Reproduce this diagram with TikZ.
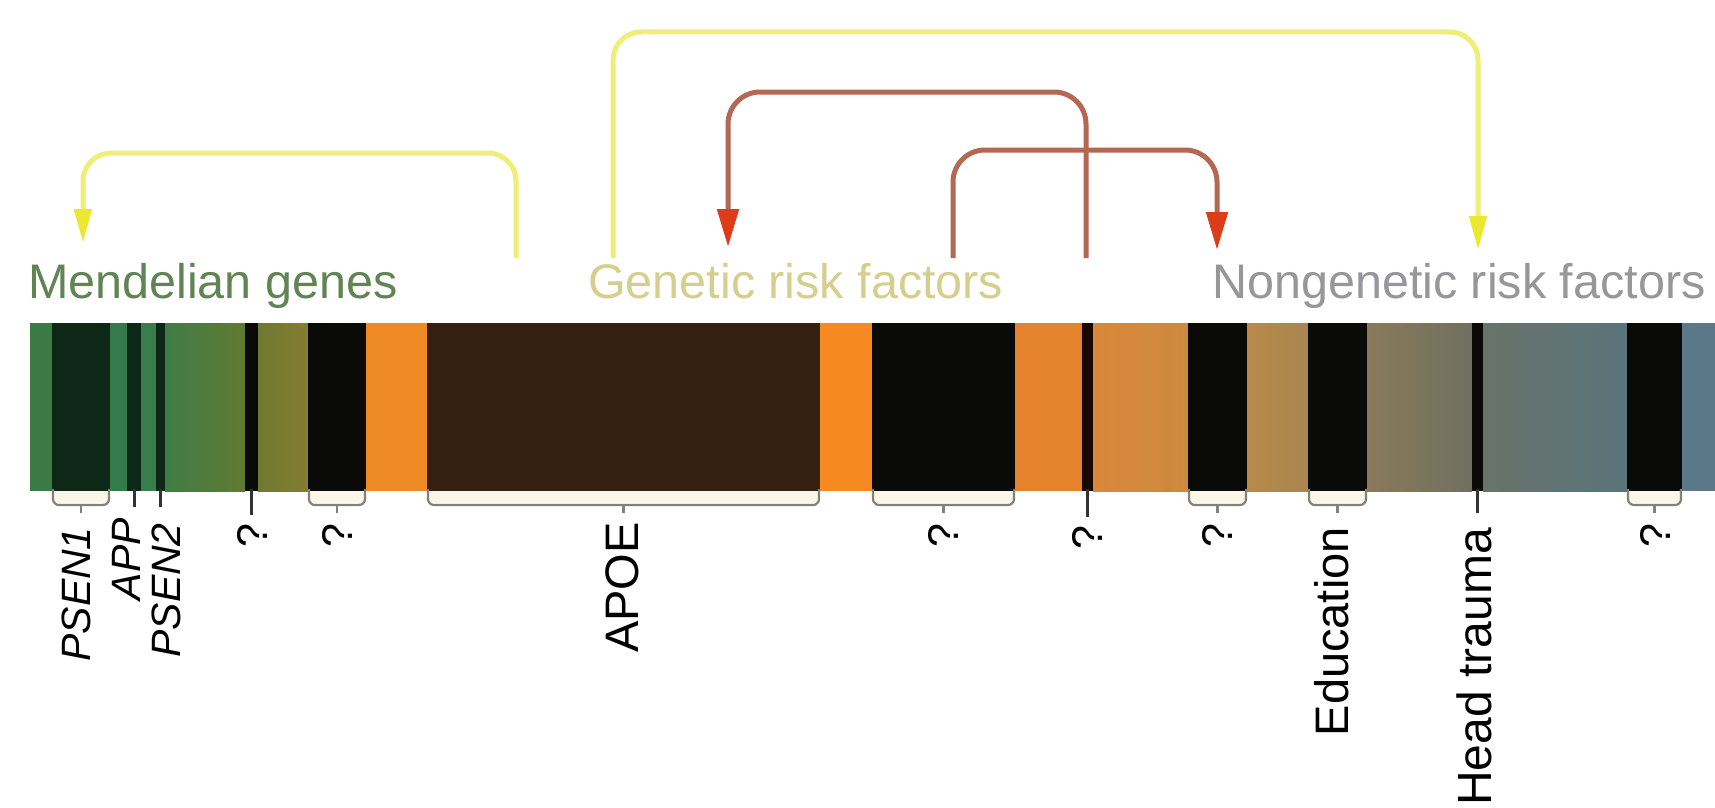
\documentclass[tikz,border=0pt]{standalone}
\usepackage{fontspec}
\setmainfont{Liberation Sans}
\usetikzlibrary{arrows.meta}
\definecolor{yel}{RGB}{238,238,120}
\definecolor{yelhead}{RGB}{236,232,50}
\definecolor{redline}{RGB}{180,104,84}
\definecolor{redhead}{RGB}{220,60,25}
\definecolor{mendel}{RGB}{96,132,84}
\definecolor{genrisk}{RGB}{214,206,140}
\definecolor{nongen}{RGB}{150,150,155}
\definecolor{brkgray}{RGB}{130,130,120}
\definecolor{cream}{RGB}{250,246,232}
\definecolor{blk}{RGB}{10,10,8}
\definecolor{gA}{RGB}{59,122,69}
\definecolor{gdark}{RGB}{14,40,24}
\definecolor{gB}{RGB}{53,122,74}
\definecolor{gC}{RGB}{58,125,76}
\definecolor{gD}{RGB}{63,125,69}
\definecolor{olA}{RGB}{98,122,50}
\definecolor{olB}{RGB}{110,122,48}
\definecolor{olC}{RGB}{133,125,48}
\definecolor{orA}{RGB}{238,138,37}
\definecolor{apoebrown}{RGB}{53,32,15}
\definecolor{orB}{RGB}{246,138,32}
\definecolor{orC}{RGB}{228,131,44}
\definecolor{dkbrown}{RGB}{26,8,0}
\definecolor{tanA}{RGB}{217,135,58}
\definecolor{tanB}{RGB}{204,138,64}
\definecolor{tanC}{RGB}{185,138,74}
\definecolor{tanD}{RGB}{168,133,80}
\definecolor{gbA}{RGB}{138,122,90}
\definecolor{gbB}{RGB}{111,112,96}
\definecolor{gbC}{RGB}{104,115,106}
\definecolor{gbD}{RGB}{90,116,122}
\definecolor{gbE}{RGB}{90,120,136}
\newcommand\blockbracket[2]{%
  \fill[cream] ({#1+1},491) rectangle ({#2-1},503);
  \draw[brk, rounded corners=6pt] ({#1+1},489) -- ({#1+1},505) -- ({#2-1},505) -- ({#2-1},489);
  \draw[brk] ({(#1+#2)/2},505) -- ({(#1+#2)/2},513);}
\begin{document}
\begin{tikzpicture}[x=1pt,y=-1pt,
  brk/.style={draw=brkgray, line width=2.2pt},
  thintick/.style={draw=black!80, line width=3pt},
  hlab/.style={anchor=base west, inner sep=0pt, font=\fontsize{48.5pt}{50pt}\selectfont},
  rlab/.style={rotate=90, anchor=east, inner sep=0pt, font=\fontsize{#1pt}{#1pt}\selectfont},
  yarrow/.style={draw=yel, line width=5pt, rounded corners=28pt, -{Triangle[length=34pt,width=17pt,color=yelhead]}},
  rarrow/.style={draw=redline, line width=5pt, rounded corners=32pt, -{Triangle[length=38pt,width=21pt,color=redhead]}}]
\useasboundingbox (0,0) rectangle (1715,808);
\fill[white] (0,0) rectangle (1715,808);
% ---- bar ----
\fill[gA] (30,323) rectangle (52,491);
\fill[gdark] (52,323) rectangle (110,491);
\fill[gB] (110,323) rectangle (127,491);
\fill[gdark] (127,323) rectangle (141,491);
\fill[gC] (141,323) rectangle (156,491);
\fill[gdark] (156,323) rectangle (165,491);
\shade[left color=gD, right color=olA] (165,323) rectangle (245,491);
\fill[blk] (245,323) rectangle (258,491);
\shade[left color=olB, right color=olC] (258,323) rectangle (308,491);
\fill[blk] (308,323) rectangle (366,491);
\fill[orA] (366,323) rectangle (427,491);
\fill[apoebrown] (427,323) rectangle (820,491);
\fill[orB] (820,323) rectangle (872,491);
\fill[blk] (872,323) rectangle (1015,491);
\fill[orC] (1015,323) rectangle (1082,491);
\fill[dkbrown] (1082,323) rectangle (1093,491);
\shade[left color=tanA, right color=tanB] (1093,323) rectangle (1188,491);
\fill[blk] (1188,323) rectangle (1247,491);
\shade[left color=tanC, right color=tanD] (1247,323) rectangle (1308,491);
\fill[blk] (1308,323) rectangle (1367,491);
\shade[left color=gbA, right color=gbB] (1367,323) rectangle (1472,491);
\fill[blk] (1472,323) rectangle (1483,491);
\shade[left color=gbC, right color=gbD] (1483,323) rectangle (1627,491);
\fill[blk] (1627,323) rectangle (1682,491);
\fill[gbE] (1682,323) rectangle (1715,491);
% ---- brackets and ticks ----
\blockbracket{52}{110}
\blockbracket{308}{366}
\blockbracket{427}{820}
\blockbracket{872}{1015}
\blockbracket{1188}{1247}
\blockbracket{1308}{1367}
\blockbracket{1627}{1682}
\draw[thintick] (134,489) -- (134,507);
\draw[thintick] (160.5,489) -- (160.5,507);
\draw[thintick] (251.5,489) -- (251.5,515);
\draw[thintick] (1087.5,489) -- (1087.5,517);
\draw[thintick] (1477.5,489) -- (1477.5,513);
% ---- labels below ----
\node[rlab=41] (psen1) at (76,527) {\itshape PSEN1};
\node[rlab=41] (app) at (126,518) {\itshape APP};
\node[rlab=41] (psen2) at (166,523) {\itshape PSEN2};
\node[rlab=43] (q1) at (252,523) {?};
\node[rlab=43] (q2) at (337,523) {?};
\node[rlab=47] (apoe) at (622,522) {APOE};
\node[rlab=43] (q3) at (943,523) {?};
\node[rlab=43] (q4) at (1087,525) {?};
\node[rlab=43] (q5) at (1217,523) {?};
\node[rlab=47] (edu) at (1332,527) {Education};
\node[rlab=48] (head) at (1474,528) {Head trauma};
\node[rlab=43] (q6) at (1655,523) {?};
% ---- labels above ----
\node[hlab, text=mendel] (mend) at (28,298) {Mendelian genes};
\node[hlab, text=genrisk] (gen) at (588,298) {Genetic risk factors};
\node[hlab, text=nongen] (nongen) at (1212,298) {Nongenetic risk factors};
% ---- arrows ----
\coordinate (ms) at (516,258);
\coordinate (mt) at (83,243);
\coordinate (gs) at (613,258);
\coordinate (nt) at (1478,250);
\coordinate (r1s) at (1086,258);
\coordinate (r1t) at (728,247);
\coordinate (r2s) at (953,258);
\coordinate (r2t) at (1217,250);
\draw[yarrow] (ms) |- (83,153) -- (mt);
\draw[yarrow] (gs) |- (1478,32) -- (nt);
\draw[rarrow] (r1s) |- (728,92) -- (r1t);
\draw[rarrow] (r2s) |- (1217,150) -- (r2t);
\end{tikzpicture}
\end{document}
